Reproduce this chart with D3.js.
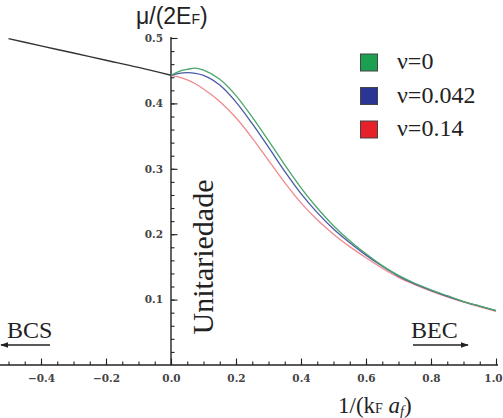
<!DOCTYPE html>
<html>
<head>
<meta charset="utf-8">
<script src="https://cdn.jsdelivr.net/npm/d3@7/dist/d3.min.js"></script>
<style>
  html, body { margin: 0; padding: 0; background: #fff; }
  svg { display: block; }
</style>
</head>
<body>
<svg id="chart" width="503" height="418"></svg>
<script>
// ---------- data ----------
const xBCS = [-0.5, -0.4, -0.3, -0.2, -0.1, 0.0];
const yBCS = [0.499, 0.488, 0.477, 0.466, 0.455, 0.443];

const xs = [0, 0.025, 0.05, 0.075, 0.1, 0.15, 0.2, 0.25, 0.3, 0.35, 0.4, 0.45, 0.5, 0.55, 0.6, 0.65, 0.7, 0.75, 0.8, 0.85, 0.9, 0.95, 1.0];
const nu0    = [0.443, 0.449, 0.452, 0.454, 0.451, 0.437, 0.412, 0.379, 0.343, 0.306, 0.271, 0.240, 0.213, 0.190, 0.170, 0.152, 0.137, 0.125, 0.115, 0.106, 0.097, 0.090, 0.083];
const nu042  = [0.443, 0.446, 0.447, 0.446, 0.443, 0.428, 0.402, 0.369, 0.333, 0.296, 0.262, 0.233, 0.208, 0.187, 0.168, 0.151, 0.136, 0.124, 0.114, 0.105, 0.097, 0.090, 0.083];
const nu14   = [0.443, 0.440, 0.436, 0.430, 0.422, 0.403, 0.378, 0.347, 0.313, 0.279, 0.248, 0.222, 0.200, 0.181, 0.164, 0.148, 0.134, 0.123, 0.113, 0.104, 0.096, 0.089, 0.082];

const seriesSymbol = "ν";
const seriesLabels = ["=0", "=0.042", "=0.14"];
const seriesValues = [nu0, nu042, nu14];
const seriesColors = ["#1aa050", "#2a3595", "#e8202a"];
const lineColors = ["#4aa868", "#4a5aa8", "#f08a90"];

const xMajor = [-0.4, -0.2, 0.0, 0.2, 0.4, 0.6, 0.8, 1.0];
const xMinor = d3.range(-0.5, 1.0001, 0.05).map(v => +v.toFixed(2));
const yMajor = [0.1, 0.2, 0.3, 0.4, 0.5];
const yMinor = d3.range(0.02, 0.5001, 0.02).map(v => +v.toFixed(2));

// ---------- layout ----------
const svg = d3.select("#chart");
const x = d3.scaleLinear().domain([-0.5, 1.0]).range([8.5, 496]);
const y = d3.scaleLinear().domain([0, 0.5]).range([365, 38]);

const tickFont = "'DejaVu Serif', serif";
const serif = "'Liberation Serif', 'Times New Roman', serif";

// x axis
const gx = svg.append("g").attr("transform", `translate(0,${y(0)})`);
gx.append("line").attr("x1", 0).attr("x2", 498).attr("y1", 0).attr("y2", 0)
  .attr("stroke", "#222").attr("stroke-width", 1.4);
gx.append("g").call(d3.axisBottom(x).tickValues(xMinor).tickSize(-3.5).tickSizeOuter(0).tickFormat(""));
const gxMajor = gx.append("g").call(d3.axisBottom(x).tickValues(xMajor).tickSize(-6.5).tickSizeOuter(0).tickPadding(10)
  .tickFormat(d => d3.format(".1f")(d).replace("-", "−")));
gx.selectAll(".domain").remove();
gx.selectAll(".tick line").attr("stroke", "#222").attr("stroke-width", 1.1);
gxMajor.selectAll("text").attr("font-family", tickFont).attr("font-weight", "bold")
  .attr("font-size", 10.5).attr("fill", "#444")
  .attr("dx", d => d === 1.0 ? -3 : 0);

// y axis
const gy = svg.append("g").attr("transform", `translate(${x(0)},0)`);
gy.append("line").attr("x1", 0).attr("x2", 0).attr("y1", y(0)).attr("y2", y(0.5) - 1)
  .attr("stroke", "#222").attr("stroke-width", 1.4);
gy.append("g").call(d3.axisLeft(y).tickValues(yMinor).tickSize(-3.5).tickSizeOuter(0).tickFormat(""));
const gyMajor = gy.append("g").call(d3.axisLeft(y).tickValues(yMajor).tickSize(-6.5).tickSizeOuter(0).tickPadding(8)
  .tickFormat(d3.format(".1f")));
gy.selectAll(".domain").remove();
gy.selectAll(".tick line").attr("stroke", "#222").attr("stroke-width", 1.1);
gyMajor.selectAll("text").attr("font-family", tickFont).attr("font-weight", "bold")
  .attr("font-size", 10.5).attr("fill", "#444");

// curves
const line = d3.line().x(d => x(d[0])).y(d => y(d[1])).curve(d3.curveMonotoneX);
[2, 1, 0].forEach(i => {
  svg.append("path")
    .datum(xs.map((v, j) => [v, seriesValues[i][j]]))
    .attr("d", line)
    .attr("fill", "none")
    .attr("stroke", lineColors[i])
    .attr("stroke-width", 1.3);
});
svg.append("path")
  .datum(xBCS.map((v, j) => [v, yBCS[j]]))
  .attr("d", line)
  .attr("fill", "none")
  .attr("stroke", "#333")
  .attr("stroke-width", 1.4);

// legend
const lg = svg.append("g");
seriesLabels.forEach((name, i) => {
  const yy = 54 + i * 33.5;
  lg.append("rect").attr("x", 360.5).attr("y", yy).attr("width", 17).attr("height", 17)
    .attr("fill", seriesColors[i]).attr("stroke", "#444").attr("stroke-width", 1);
  const sym = lg.append("text").attr("x", 397).attr("y", yy + 15)
    .attr("font-family", "'Liberation Serif', 'DejaVu Serif', serif")
    .attr("font-size", 24).attr("fill", "#222").text(seriesSymbol);
  const w = sym.node().getComputedTextLength();
  lg.append("text").attr("x", 397 + w).attr("y", yy + 15)
    .attr("font-family", "Liberation Serif").attr("font-size", 24).attr("fill", "#222").text(name);
});

// axis titles
const t1 = svg.append("text").attr("x", 136).attr("y", 24)
  .attr("font-family", "'Liberation Sans', Arial, sans-serif").attr("font-size", 23).attr("fill", "#222");
t1.append("tspan").text("μ/(2E");
t1.append("tspan").text("F").attr("font-size", 14);
t1.append("tspan").text(")").attr("font-size", 23);

const t2 = svg.append("text").attr("x", 338).attr("y", 413)
  .attr("font-family", serif).attr("font-size", 23).attr("fill", "#222");
t2.append("tspan").text("1/(k");
t2.append("tspan").text("F").attr("font-size", 14);
t2.append("tspan").text(" a").attr("font-style", "italic");
t2.append("tspan").text("f").attr("font-size", 14).attr("font-style", "italic").attr("dy", 3);
t2.append("tspan").text(")").attr("dy", -3);

// annotations
svg.append("text").attr("transform", "translate(213,257) rotate(-90)")
  .attr("text-anchor", "middle").attr("font-family", serif).attr("font-size", 30)
  .attr("fill", "#222").text("Unitariedade");

svg.append("defs").append("marker").attr("id", "arr").attr("viewBox", "0 0 10 10")
  .attr("refX", 9).attr("refY", 5).attr("markerWidth", 8).attr("markerHeight", 8)
  .attr("orient", "auto-start-reverse").attr("markerUnits", "userSpaceOnUse")
  .append("path").attr("d", "M0,1.5 L10,5 L0,8.5 Z").attr("fill", "#222");

svg.append("text").attr("x", 7).attr("y", 338).attr("font-family", serif).attr("font-size", 24)
  .attr("fill", "#222").text("BCS");
svg.append("line").attr("x1", 50).attr("x2", 1).attr("y1", 345).attr("y2", 345)
  .attr("stroke", "#222").attr("stroke-width", 1.3).attr("marker-end", "url(#arr)");

svg.append("text").attr("x", 411).attr("y", 338).attr("font-family", serif).attr("font-size", 24)
  .attr("fill", "#222").text("BEC");
svg.append("line").attr("x1", 413).attr("x2", 468).attr("y1", 345).attr("y2", 345)
  .attr("stroke", "#222").attr("stroke-width", 1.3).attr("marker-end", "url(#arr)");
</script>
</body>
</html>
